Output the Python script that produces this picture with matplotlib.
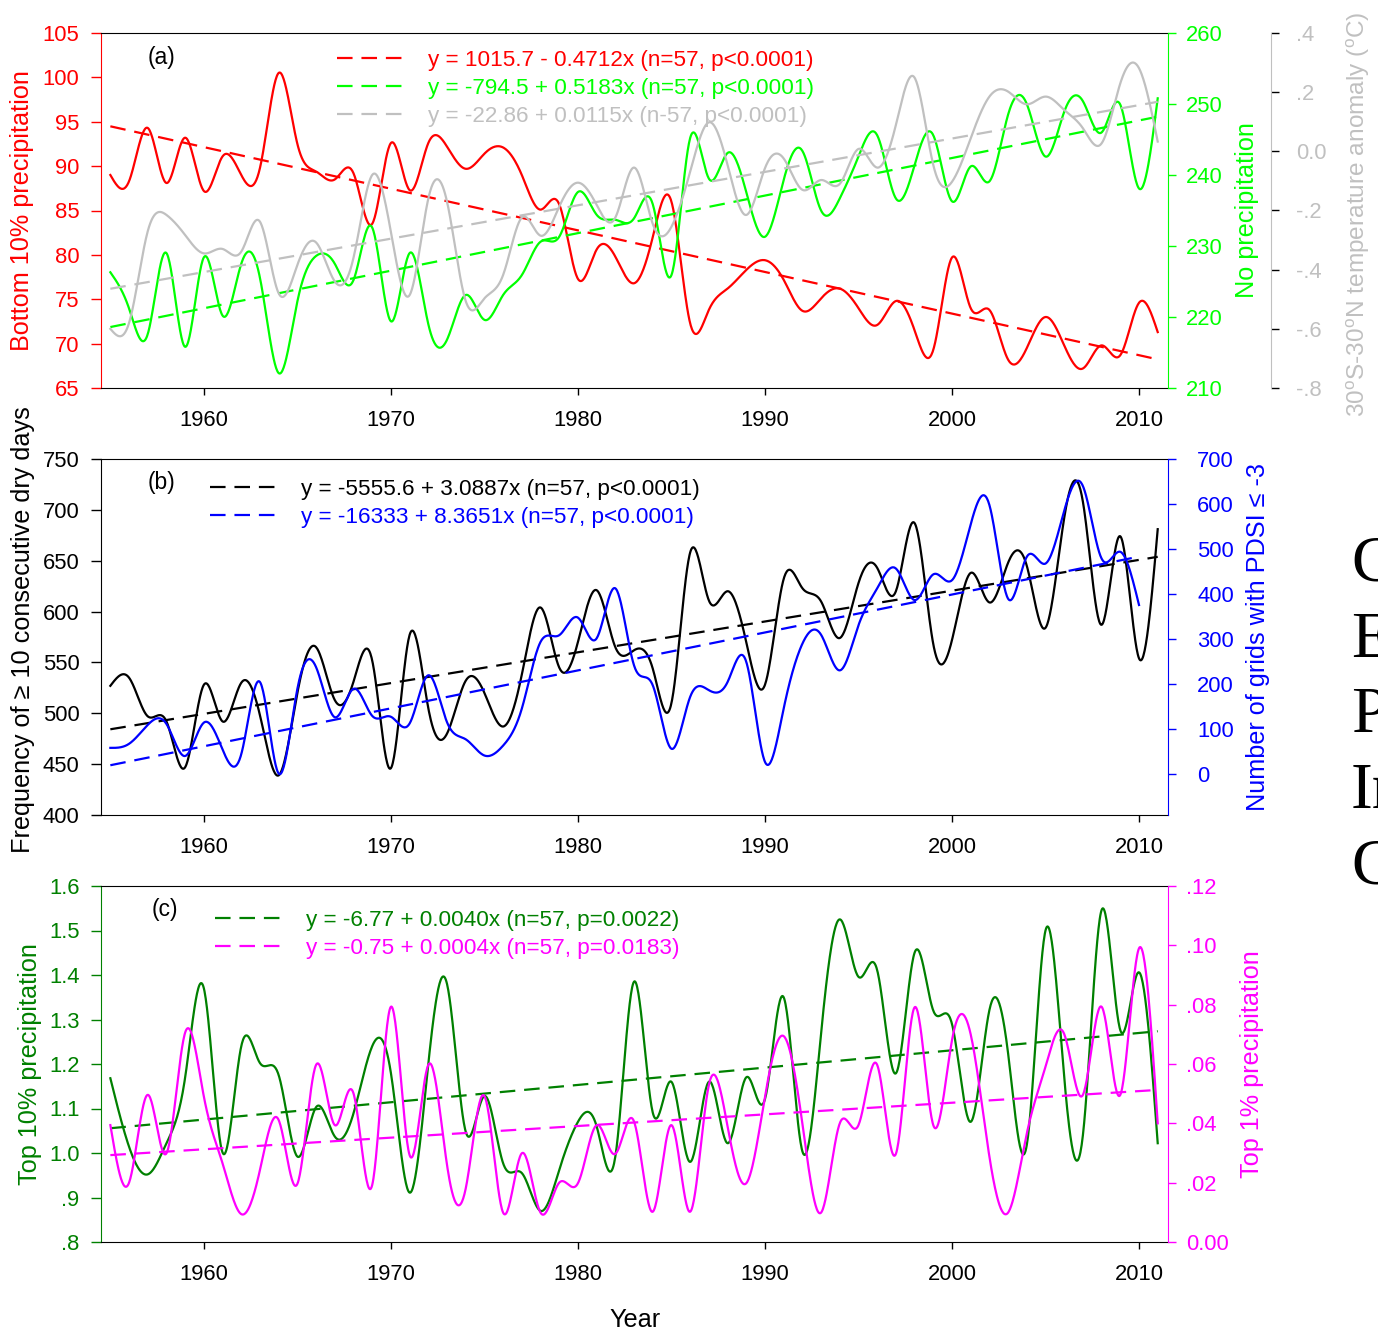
import numpy as np
import matplotlib
matplotlib.use('Agg')
import matplotlib.pyplot as plt
from matplotlib.ticker import FixedLocator, FixedFormatter

plt.rcParams['font.family'] = ['Liberation Sans', 'DejaVu Sans']
plt.rcParams['mathtext.fontset'] = 'custom'
plt.rcParams['mathtext.rm'] = 'Liberation Sans'
plt.rcParams['mathtext.it'] = 'Liberation Sans'

years = np.arange(1955, 2012)
years_pdsi = np.arange(1955, 2011)

# (a) bottom 10% precipitation, no-precipitation days, tropical temperature anomaly
bottom10 = [89.0, 88.3, 94.3, 88.1, 93.2, 87.2, 91.1, 89.0, 89.8, 100.5,
            92.5, 89.4, 88.5, 89.2, 83.5, 92.6, 87.3, 92.6, 92.2, 89.7,
            91.4, 92.1, 89.0, 85.1, 85.7, 77.3, 80.6, 79.8, 76.8, 82.0,
            86.0, 72.3, 73.8, 76.2, 78.3, 79.4, 77.2, 73.7, 75.1, 76.2,
            74.0, 72.1, 74.8, 71.5, 69.3, 79.7, 74.0, 73.8, 68.2, 69.5,
            73.0, 69.8, 67.2, 69.8, 68.7, 74.6, 71.3]
no_precip = [226.3, 221.2, 217.6, 229.0, 215.8, 228.4, 220.2, 227.5, 225.5, 212.1,
             222.2, 228.6, 227.5, 225.2, 232.6, 219.4, 229.0, 219.0, 216.8, 223.1,
             219.6, 223.1, 225.9, 230.6, 231.3, 237.6, 234.4, 233.7, 233.9, 235.9,
             225.9, 245.2, 239.5, 243.1, 237.6, 231.3, 239.3, 243.4, 235.0, 236.7,
             242.6, 245.6, 236.7, 241.4, 245.6, 236.3, 241.2, 239.1, 248.5, 250.0,
             242.6, 248.9, 250.4, 246.0, 249.9, 238.1, 250.8]
temp_anom = [-0.60, -0.58, -0.27, -0.215, -0.283, -0.345, -0.33, -0.339, -0.238, -0.48,
             -0.384, -0.308, -0.44, -0.36, -0.08, -0.272, -0.486, -0.16, -0.17, -0.506,
             -0.497, -0.418, -0.224, -0.285, -0.187, -0.106, -0.181, -0.224, -0.055, -0.245,
             -0.255, -0.069, 0.098, -0.046, -0.215, -0.057, -0.024, -0.13, -0.097, -0.11,
             0.008, -0.055, 0.089, 0.249, -0.046, -0.103, 0.044, 0.185, 0.202, 0.159,
             0.185, 0.14, 0.078, 0.027, 0.23, 0.281, 0.033]

# (b) dry spells and PDSI grids
dry_days = [527, 535, 497, 492, 447, 528, 492, 530, 498, 439,
            520, 565, 513, 531, 552, 446, 577, 505, 480, 532,
            520, 487, 538, 604, 545, 570, 621, 565, 562, 544,
            510, 658, 611, 620, 570, 528, 632, 623, 610, 574,
            628, 643, 620, 687, 568, 572, 638, 609, 648, 645,
            584, 692, 708, 587, 674, 554, 681]
pdsi_grids = [59, 68, 110, 112, 41, 115, 55, 45, 205, 2,
              190, 238, 127, 190, 130, 128, 113, 220, 116, 78,
              42, 64, 146, 294, 309, 348, 302, 413, 242, 198,
              57, 172, 187, 205, 250, 28, 146, 290, 310, 231,
              331, 413, 457, 387, 444, 431, 555, 598, 390, 483,
              468, 585, 640, 479, 494, 376]

# (c) top 10% and top 1% precipitation
top10 = [1.168, 1.014, 0.952, 1.022, 1.17, 1.37, 1.001, 1.24, 1.202, 1.175,
         0.992, 1.103, 1.037, 1.089, 1.24, 1.18, 0.911, 1.20, 1.38, 1.048,
         1.128, 0.977, 0.955, 0.870, 0.962, 1.07, 1.06, 0.992, 1.385, 1.091,
         1.160, 0.980, 1.160, 1.022, 1.170, 1.121, 1.350, 1.004, 1.269, 1.525,
         1.396, 1.411, 1.179, 1.450, 1.32, 1.29, 1.070, 1.321, 1.224, 1.018,
         1.50, 1.17, 1.04, 1.546, 1.276, 1.406, 1.022]
top1 = [0.0394, 0.020, 0.0496, 0.0299, 0.0706, 0.049, 0.0265, 0.0094, 0.0243, 0.0411,
        0.0196, 0.0597, 0.0394, 0.0501, 0.0192, 0.0793, 0.0293, 0.0597, 0.026, 0.018,
        0.0492, 0.0099, 0.0299, 0.0099, 0.020, 0.0198, 0.0394, 0.0297, 0.0406, 0.0102,
        0.0394, 0.0102, 0.0529, 0.039, 0.0198, 0.049, 0.0694, 0.040, 0.0099, 0.040,
        0.0394, 0.0597, 0.0297, 0.0791, 0.0394, 0.068, 0.070, 0.0288, 0.0099, 0.0366,
        0.0591, 0.0701, 0.0496, 0.0793, 0.0496, 0.099, 0.040]

label_red = 'y = 1015.7 - 0.4712x (n=57, p<0.0001)'
label_green = 'y = -794.5 + 0.5183x (n=57, p<0.0001)'
label_grey = 'y = -22.86 + 0.0115x (n-57, p<0.0001)'
label_black = 'y = -5555.6 + 3.0887x (n=57, p<0.0001)'
label_blue = 'y = -16333 + 8.3651x (n=57, p<0.0001)'
label_dgreen = 'y = -6.77 + 0.0040x (n=57, p=0.0022)'
label_mag = 'y = -0.75 + 0.0004x (n=57, p=0.0183)'

RED, GREEN, GREY = '#FF0000', '#00FF00', '#C0C0C0'
BLUE, DGREEN, MAG = '#0000FF', '#008000', '#FF00FF'


def spline(x, y, n=30):
    # natural cubic spline, for the smooth curve look
    x = np.asarray(x, float)
    y = np.asarray(y, float)
    m = len(x)
    h = np.diff(x)
    A = np.zeros((m, m))
    r = np.zeros(m)
    A[0, 0] = A[-1, -1] = 1
    for i in range(1, m - 1):
        A[i, i - 1] = h[i - 1]
        A[i, i] = 2 * (h[i - 1] + h[i])
        A[i, i + 1] = h[i]
        r[i] = 6 * ((y[i + 1] - y[i]) / h[i] - (y[i] - y[i - 1]) / h[i - 1])
    M = np.linalg.solve(A, r)
    xs, ys = [], []
    for i in range(m - 1):
        t = np.linspace(x[i], x[i + 1], n, endpoint=False)
        a = x[i + 1] - t
        b = t - x[i]
        s = (M[i] * a ** 3 + M[i + 1] * b ** 3) / (6 * h[i]) \
            + (y[i] / h[i] - M[i] * h[i] / 6) * a + (y[i + 1] / h[i] - M[i + 1] * h[i] / 6) * b
        xs.append(t)
        ys.append(s)
    xs.append([x[-1]])
    ys.append([y[-1]])
    return np.concatenate(xs), np.concatenate(ys)


def trend(ax, x, y, color, label):
    k, c = np.polyfit(x, y, 1)
    xx = np.array([x[0], x[-1]])
    line, = ax.plot(xx, c + k * xx, color=color, lw=1.6, dashes=(7, 4), label=label)
    return line


def curve(ax, x, y, color):
    sx, sy = spline(x, y)
    ax.plot(sx, sy, color=color, lw=1.6)


W, H = 1378, 1333


def box(l, t, r, b):
    return [l / W, 1 - b / H, (r - l) / W, (b - t) / H]


fig = plt.figure(figsize=(13.78, 13.33), dpi=100)
TS = 15.8
LS = 18.2
GS = 16.2
LEG = dict(loc='upper left', frameon=False, fontsize=GS, labelcolor='linecolor',
           handlelength=3.0, handletextpad=1.05, labelspacing=0.31,
           borderpad=0, borderaxespad=0)


def style_left(ax, color):
    ax.set_xlim(1954.5, 2011.55)
    ax.set_xticks([1960, 1970, 1980, 1990, 2000, 2010])
    ax.tick_params(axis='x', direction='out', length=5, width=1, labelsize=TS, pad=10.5)
    ax.tick_params(axis='y', direction='out', length=7, width=1, labelsize=TS, pad=8.5,
                   colors=color)
    ax.spines['left'].set_color(color)
    ax.spines['right'].set_visible(False)


def style_right(ax, color, pad=7):
    for s in ['left', 'top', 'bottom']:
        ax.spines[s].set_visible(False)
    ax.spines['right'].set_color(color)
    ax.tick_params(axis='y', direction='out', length=6, width=1, labelsize=TS, pad=pad,
                   colors=color)


# ---------------- (a) ----------------
ax_a = fig.add_axes(box(101, 33, 1168, 388))
ax_ag = ax_a.twinx()
ax_at = ax_a.twinx()

curve(ax_a, years, bottom10, RED)
l1 = trend(ax_a, years, bottom10, RED, label_red)
curve(ax_ag, years, no_precip, GREEN)
l2 = trend(ax_ag, years, no_precip, GREEN, label_green)
curve(ax_at, years, temp_anom, GREY)
l3 = trend(ax_at, years, temp_anom, GREY, label_grey)

style_left(ax_a, RED)
ax_a.set_ylim(65, 105)
ax_a.set_yticks(np.arange(65, 106, 5))
ax_a.set_ylabel('Bottom 10% precipitation', color=RED, fontsize=LS)
ax_a.yaxis.set_label_coords(-0.063, 0.5)

style_right(ax_ag, GREEN)
ax_ag.set_ylim(210, 260)
ax_ag.set_yticks(np.arange(210, 261, 10))
ax_ag.set_ylabel('No precipitation', color=GREEN, fontsize=LS)
ax_ag.yaxis.set_label_coords(1.063, 0.5)

style_right(ax_at, GREY, pad=12)
ax_at.spines['right'].set_position(('axes', 1.0965))
ax_at.set_ylim(-0.8, 0.4)
ax_at.yaxis.set_major_locator(FixedLocator([-0.8, -0.6, -0.4, -0.2, 0.0, 0.2, 0.4]))
ax_at.yaxis.set_major_formatter(FixedFormatter(['-.8', '-.6', '-.4', '-.2', '0.0', '.2', '.4']))
ax_at.tick_params(axis='y', colors='black', labelcolor=GREY)
ax_at.set_ylabel(r'30$^\mathrm{o}$S-30$^\mathrm{o}$N temperature anomaly ($^\mathrm{o}$C)',
                 color=GREY, fontsize=17.6)
ax_at.yaxis.set_label_coords(1.166, 0.49)

ax_at.legend(handles=[l1, l2, l3], bbox_to_anchor=(0.221, 0.953), **LEG)
ax_a.text(0.057, 0.932, '(a)', transform=ax_a.transAxes, fontsize=16.5, ha='center', va='center')

# ---------------- (b) ----------------
ax_b = fig.add_axes(box(101, 459, 1168, 815))
ax_bb = ax_b.twinx()

curve(ax_b, years, dry_days, 'black')
l4 = trend(ax_b, years, dry_days, 'black', label_black)
curve(ax_bb, years_pdsi, pdsi_grids, BLUE)
l5 = trend(ax_bb, years_pdsi, pdsi_grids, BLUE, label_blue)

style_left(ax_b, 'black')
ax_b.set_ylim(400, 750)
ax_b.set_yticks(np.arange(400, 751, 50))
ax_b.set_ylabel('Frequency of \u2265 10 consecutive dry days', fontsize=LS)
ax_b.yaxis.set_label_coords(-0.062, 0.52)

style_right(ax_bb, BLUE, pad=15)
ax_bb.set_ylim(-90, 700)
ax_bb.set_yticks(np.arange(0, 701, 100))
ax_bb.set_ylabel('Number of grids with PDSI \u2264 -3', color=BLUE, fontsize=LS)
ax_bb.yaxis.set_label_coords(1.073, 0.5)

ax_bb.legend(handles=[l4, l5], bbox_to_anchor=(0.102, 0.944), **LEG)
ax_b.text(0.057, 0.933, '(b)', transform=ax_b.transAxes, fontsize=16.5, ha='center', va='center')

# ---------------- (c) ----------------
ax_c = fig.add_axes(box(101, 886, 1168, 1242))
ax_cm = ax_c.twinx()

curve(ax_c, years, top10, DGREEN)
l6 = trend(ax_c, years, top10, DGREEN, label_dgreen)
curve(ax_cm, years, top1, MAG)
l7 = trend(ax_cm, years, top1, MAG, label_mag)

style_left(ax_c, DGREEN)
ax_c.set_ylim(0.8, 1.6)
ax_c.yaxis.set_major_locator(FixedLocator(np.arange(0.8, 1.61, 0.1)))
ax_c.yaxis.set_major_formatter(FixedFormatter(['.8', '.9', '1.0', '1.1', '1.2', '1.3', '1.4', '1.5', '1.6']))
ax_c.set_ylabel('Top 10% precipitation', color=DGREEN, fontsize=LS)
ax_c.yaxis.set_label_coords(-0.055, 0.5)
ax_c.set_xlabel('Year', fontsize=LS, labelpad=17)

style_right(ax_cm, MAG)
ax_cm.set_ylim(0, 0.12)
ax_cm.yaxis.set_major_locator(FixedLocator(np.arange(0, 0.121, 0.02)))
ax_cm.yaxis.set_major_formatter(FixedFormatter(['0.00', '.02', '.04', '.06', '.08', '.10', '.12']))
ax_cm.set_ylabel('Top 1% precipitation', color=MAG, fontsize=LS)
ax_cm.yaxis.set_label_coords(1.0675, 0.5)

ax_cm.legend(handles=[l6, l7], bbox_to_anchor=(0.107, 0.933), **LEG)
ax_c.text(0.060, 0.935, '(c)', transform=ax_c.transAxes, fontsize=16.5, ha='center', va='center')

# page text cut off at the right edge
for letter, yc in zip(['C', 'E', 'P', 'In', 'C'], [565, 641, 716, 792, 868]):
    fig.text(1351 / W, 1 - yc / H, letter, family='Liberation Serif', fontsize=47,
             ha='left', va='center')

fig.savefig('out.png', dpi=100)
